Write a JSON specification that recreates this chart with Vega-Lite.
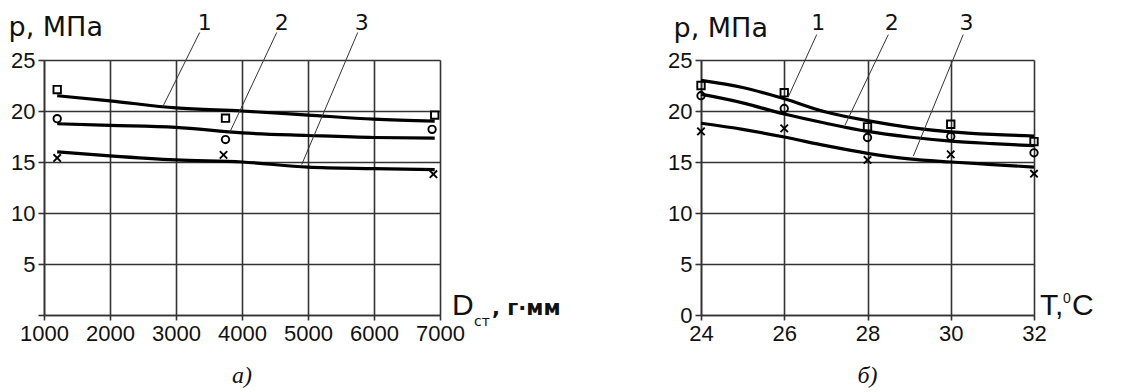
{
  "$schema": "https://vega.github.io/schema/vega-lite/v6.json",
  "padding": {"left": 8, "top": 12, "right": 5, "bottom": 5},
  "bounds": "flush",
  "spacing": 261,
  "background": "white",
  "config": {
    "view": {"stroke": null},
    "font": "Liberation Sans",
    "axis": {
      "grid": true, "gridColor": "#333", "gridWidth": 1.6,
      "domainColor": "#333", "domainWidth": 1.6,
      "tickColor": "#333", "tickWidth": 1.6,
      "labelFont": "Liberation Sans", "labelFontSize": 22, "labelColor": "#111",
      "labelOverlap": false, "labelFlush": false, "labelBound": false
    },
    "title": {"color": "#111"}
  },
  "datasets": {
    "ptsA": [
      {"s": "1", "x": 1200, "p": 22.1}, {"s": "1", "x": 3750, "p": 19.3}, {"s": "1", "x": 6920, "p": 19.6},
      {"s": "2", "x": 1200, "p": 19.25}, {"s": "2", "x": 3750, "p": 17.2}, {"s": "2", "x": 6880, "p": 18.2},
      {"s": "3", "x": 1200, "p": 15.4}, {"s": "3", "x": 3720, "p": 15.7}, {"s": "3", "x": 6900, "p": 13.8}
    ],
    "crvA": [
      {"s": "1", "x": 1200, "p": 21.5}, {"s": "1", "x": 2000, "p": 21.0}, {"s": "1", "x": 3000, "p": 20.3}, {"s": "1", "x": 4000, "p": 20.0}, {"s": "1", "x": 5000, "p": 19.6}, {"s": "1", "x": 6000, "p": 19.2}, {"s": "1", "x": 6920, "p": 19.0},
      {"s": "2", "x": 1200, "p": 18.75}, {"s": "2", "x": 2000, "p": 18.6}, {"s": "2", "x": 3000, "p": 18.4}, {"s": "2", "x": 4000, "p": 17.85}, {"s": "2", "x": 5000, "p": 17.6}, {"s": "2", "x": 6000, "p": 17.4}, {"s": "2", "x": 6920, "p": 17.35},
      {"s": "3", "x": 1200, "p": 16.0}, {"s": "3", "x": 2000, "p": 15.6}, {"s": "3", "x": 3000, "p": 15.2}, {"s": "3", "x": 4000, "p": 15.0}, {"s": "3", "x": 5000, "p": 14.5}, {"s": "3", "x": 6000, "p": 14.35}, {"s": "3", "x": 6920, "p": 14.25}
    ],
    "lblA": [
      {"t": "1", "x": 3435, "p": 28.6}, {"t": "2", "x": 4601, "p": 28.6}, {"t": "3", "x": 5814, "p": 28.6}
    ],
    "ldrA": [
      {"x": 3359, "p": 27.7, "x2": 2798, "p2": 20.4},
      {"x": 4526, "p": 27.7, "x2": 3814, "p2": 17.9},
      {"x": 5753, "p": 27.7, "x2": 4905, "p2": 14.75}
    ],
    "anchorA": [{"x": 7000, "p": 0}],
    "ptsB": [
      {"s": "1", "x": 24, "p": 22.5}, {"s": "1", "x": 26, "p": 21.8}, {"s": "1", "x": 28, "p": 18.45}, {"s": "1", "x": 30, "p": 18.7}, {"s": "1", "x": 32, "p": 17.0},
      {"s": "2", "x": 24, "p": 21.5}, {"s": "2", "x": 26, "p": 20.25}, {"s": "2", "x": 28, "p": 17.4}, {"s": "2", "x": 30, "p": 17.5}, {"s": "2", "x": 32, "p": 15.9},
      {"s": "3", "x": 24, "p": 18.0}, {"s": "3", "x": 26, "p": 18.3}, {"s": "3", "x": 28, "p": 15.2}, {"s": "3", "x": 30, "p": 15.75}, {"s": "3", "x": 32, "p": 13.85}
    ],
    "crvB": [
      {"s": "1", "x": 24, "p": 23.0}, {"s": "1", "x": 25, "p": 22.3}, {"s": "1", "x": 26, "p": 21.2}, {"s": "1", "x": 27, "p": 19.9}, {"s": "1", "x": 28, "p": 19.05}, {"s": "1", "x": 29, "p": 18.4}, {"s": "1", "x": 30, "p": 17.95}, {"s": "1", "x": 31, "p": 17.7}, {"s": "1", "x": 32, "p": 17.55},
      {"s": "2", "x": 24, "p": 21.65}, {"s": "2", "x": 25, "p": 20.8}, {"s": "2", "x": 26, "p": 19.7}, {"s": "2", "x": 27, "p": 18.8}, {"s": "2", "x": 28, "p": 18.0}, {"s": "2", "x": 29, "p": 17.45}, {"s": "2", "x": 30, "p": 17.05}, {"s": "2", "x": 31, "p": 16.8}, {"s": "2", "x": 32, "p": 16.6},
      {"s": "3", "x": 24, "p": 18.8}, {"s": "3", "x": 25, "p": 18.2}, {"s": "3", "x": 26, "p": 17.45}, {"s": "3", "x": 27, "p": 16.6}, {"s": "3", "x": 28, "p": 15.85}, {"s": "3", "x": 29, "p": 15.3}, {"s": "3", "x": 30, "p": 15.0}, {"s": "3", "x": 31, "p": 14.75}, {"s": "3", "x": 32, "p": 14.5}
    ],
    "lblB": [
      {"t": "1", "x": 26.815, "p": 28.6}, {"t": "2", "x": 28.58, "p": 28.6}, {"t": "3", "x": 30.38, "p": 28.6}
    ],
    "ldrB": [
      {"x": 26.78, "p": 27.49, "x2": 26.10, "p2": 21.41},
      {"x": 28.50, "p": 27.49, "x2": 27.46, "p2": 18.62},
      {"x": 30.30, "p": 27.49, "x2": 29.10, "p2": 15.57}
    ],
    "anchorB": [{"x": 32, "p": 0}]
  },
  "hconcat": [
    {
      "width": 396,
      "height": 255,
      "title": {"text": "a)", "orient": "bottom", "anchor": "middle", "font": "Liberation Serif", "fontStyle": "italic", "fontWeight": "normal", "fontSize": 24, "offset": 20},
      "layer": [
        {
          "data": {"name": "crvA"},
          "mark": {"type": "line", "color": "black", "strokeWidth": 3.2, "interpolate": "monotone"},
          "encoding": {
            "x": {"field": "x", "type": "quantitative", "scale": {"domain": [1000, 7000], "nice": false, "zero": false},
              "axis": {"title": null, "values": [1000, 2000, 3000, 4000, 5000, 6000, 7000], "format": "d", "tickSize": 5, "labelPadding": 3}},
            "y": {"field": "p", "type": "quantitative", "scale": {"domain": [0, 25], "nice": false},
              "axis": {"values": [0, 5, 10, 15, 20, 25], "labelExpr": "datum.value == 0 ? '' : datum.label", "tickSize": 6, "labelPadding": 3,
                "title": "p, МПа", "titleAngle": 0, "titleAlign": "left", "titleBaseline": "alphabetic", "titleX": -36, "titleY": -25,
                "titleFont": "DejaVu Sans", "titleFontSize": 27, "titleFontWeight": "normal", "titleColor": "#111"}},
            "detail": {"field": "s"}
          }
        },
        {
          "data": {"name": "ptsA"},
          "mark": {"type": "point", "filled": false, "color": "black", "strokeWidth": 1.9, "size": 55, "opacity": 1},
          "encoding": {
            "x": {"field": "x", "type": "quantitative"},
            "y": {"field": "p", "type": "quantitative"},
            "shape": {"field": "s", "type": "nominal", "scale": {"domain": ["1", "2", "3"], "range": ["square", "circle", "M-1,-1L1,1M-1,1L1,-1"]}, "legend": null}
          }
        },
        {
          "data": {"name": "ldrA"},
          "mark": {"type": "rule", "color": "#333", "strokeWidth": 1},
          "encoding": {
            "x": {"field": "x", "type": "quantitative"},
            "y": {"field": "p", "type": "quantitative"},
            "x2": {"field": "x2"},
            "y2": {"field": "p2"}
          }
        },
        {
          "data": {"name": "lblA"},
          "mark": {"type": "text", "font": "DejaVu Sans", "fontSize": 22, "color": "#111", "baseline": "middle", "align": "center"},
          "encoding": {
            "x": {"field": "x", "type": "quantitative"},
            "y": {"field": "p", "type": "quantitative"},
            "text": {"field": "t"}
          }
        },
        {
          "data": {"name": "anchorA"},
          "mark": {"type": "text", "text": "D", "font": "Liberation Sans", "fontSize": 30, "color": "#111", "align": "left", "baseline": "alphabetic", "dx": 12, "dy": 0},
          "encoding": {"x": {"field": "x", "type": "quantitative"}, "y": {"field": "p", "type": "quantitative"}}
        },
        {
          "data": {"name": "anchorA"},
          "mark": {"type": "text", "text": "ст", "font": "DejaVu Sans", "fontSize": 14, "color": "#111", "align": "left", "baseline": "alphabetic", "dx": 34, "dy": 11},
          "encoding": {"x": {"field": "x", "type": "quantitative"}, "y": {"field": "p", "type": "quantitative"}}
        },
        {
          "data": {"name": "anchorA"},
          "mark": {"type": "text", "text": ", г·мм", "font": "DejaVu Sans", "fontWeight": "bold", "fontSize": 21, "color": "#111", "align": "left", "baseline": "alphabetic", "dx": 52, "dy": 0},
          "encoding": {"x": {"field": "x", "type": "quantitative"}, "y": {"field": "p", "type": "quantitative"}}
        }
      ]
    },
    {
      "width": 333,
      "height": 255,
      "title": {"text": "б)", "orient": "bottom", "anchor": "middle", "font": "Liberation Serif", "fontStyle": "italic", "fontWeight": "normal", "fontSize": 24, "offset": 20},
      "layer": [
        {
          "data": {"name": "crvB"},
          "mark": {"type": "line", "color": "black", "strokeWidth": 3.2, "interpolate": "monotone"},
          "encoding": {
            "x": {"field": "x", "type": "quantitative", "scale": {"domain": [24, 32], "nice": false, "zero": false},
              "axis": {"title": null, "values": [24, 26, 28, 30, 32], "format": "d", "tickSize": 5, "labelPadding": 3}},
            "y": {"field": "p", "type": "quantitative", "scale": {"domain": [0, 25], "nice": false},
              "axis": {"values": [0, 5, 10, 15, 20, 25], "tickSize": 6, "labelPadding": 3,
                "title": "p, МПа", "titleAngle": 0, "titleAlign": "left", "titleBaseline": "alphabetic", "titleX": -28, "titleY": -24,
                "titleFont": "DejaVu Sans", "titleFontSize": 27, "titleFontWeight": "normal", "titleColor": "#111"}},
            "detail": {"field": "s"}
          }
        },
        {
          "data": {"name": "ptsB"},
          "mark": {"type": "point", "filled": false, "color": "black", "strokeWidth": 1.9, "size": 55, "opacity": 1},
          "encoding": {
            "x": {"field": "x", "type": "quantitative"},
            "y": {"field": "p", "type": "quantitative"},
            "shape": {"field": "s", "type": "nominal", "scale": {"domain": ["1", "2", "3"], "range": ["square", "circle", "M-1,-1L1,1M-1,1L1,-1"]}, "legend": null}
          }
        },
        {
          "data": {"name": "ldrB"},
          "mark": {"type": "rule", "color": "#333", "strokeWidth": 1},
          "encoding": {
            "x": {"field": "x", "type": "quantitative"},
            "y": {"field": "p", "type": "quantitative"},
            "x2": {"field": "x2"},
            "y2": {"field": "p2"}
          }
        },
        {
          "data": {"name": "lblB"},
          "mark": {"type": "text", "font": "DejaVu Sans", "fontSize": 22, "color": "#111", "baseline": "middle", "align": "center"},
          "encoding": {
            "x": {"field": "x", "type": "quantitative"},
            "y": {"field": "p", "type": "quantitative"},
            "text": {"field": "t"}
          }
        },
        {
          "data": {"name": "anchorB"},
          "mark": {"type": "text", "text": "T,", "font": "Liberation Sans", "fontSize": 30, "color": "#111", "align": "left", "baseline": "alphabetic", "dx": 6, "dy": 0},
          "encoding": {"x": {"field": "x", "type": "quantitative"}, "y": {"field": "p", "type": "quantitative"}}
        },
        {
          "data": {"name": "anchorB"},
          "mark": {"type": "text", "text": "0", "font": "Liberation Sans", "fontSize": 14, "color": "#111", "align": "left", "baseline": "alphabetic", "dx": 29, "dy": -12},
          "encoding": {"x": {"field": "x", "type": "quantitative"}, "y": {"field": "p", "type": "quantitative"}}
        },
        {
          "data": {"name": "anchorB"},
          "mark": {"type": "text", "text": "C", "font": "Liberation Sans", "fontSize": 30, "color": "#111", "align": "left", "baseline": "alphabetic", "dx": 38, "dy": 0},
          "encoding": {"x": {"field": "x", "type": "quantitative"}, "y": {"field": "p", "type": "quantitative"}}
        }
      ]
    }
  ]
}
